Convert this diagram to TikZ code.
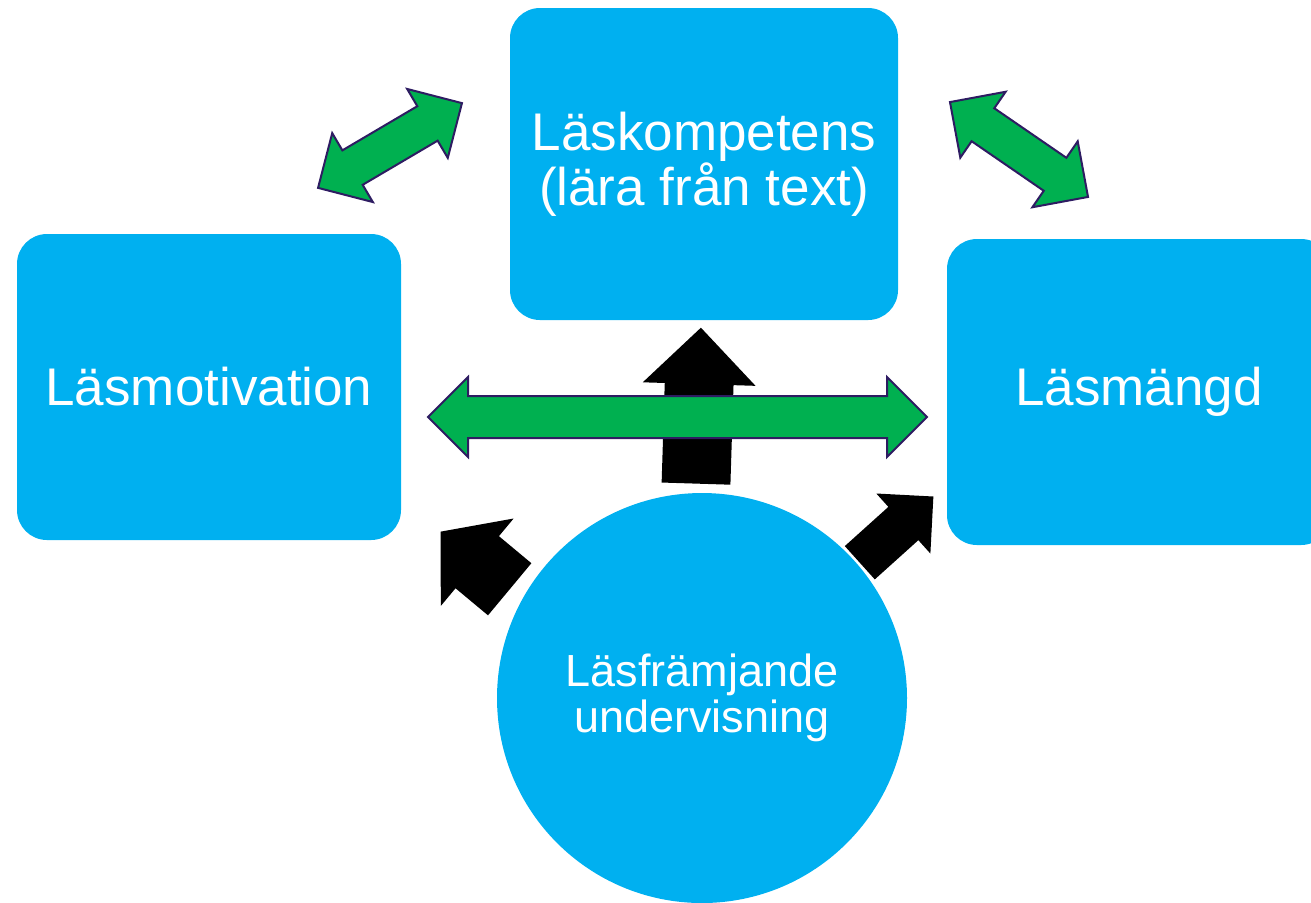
\documentclass[tikz,border=0pt]{standalone}
\usepackage{fontspec}
\setmainfont{Liberation Sans}
\usepackage{tikz}
\usetikzlibrary{shapes.arrows}
\definecolor{boxblue}{RGB}{0,176,240}
\definecolor{linkgreen}{RGB}{0,176,80}
\definecolor{linkline}{RGB}{46,28,98}

\begin{document}
\begin{tikzpicture}[x=0.5pt,y=-0.5pt,
    box/.style={rectangle,rounded corners=15pt,fill=boxblue,text=white,align=center,
      minimum width=192pt,minimum height=153pt,font=\fontsize{26.5}{27.5}\selectfont},
    link/.style={double arrow,fill=linkgreen,draw=linkline,line width=1pt,inner xsep=0pt,
      double arrow tip angle=90,minimum width=39pt},
    push/.style={single arrow,fill=black,inner xsep=0pt,single arrow tip angle=90,anchor=tail}]
  \useasboundingbox (0,0) rectangle (1311,902);
  \clip (0,0) rectangle (1311,902);
	  \node[box,minimum width=194pt,minimum height=156pt] (K) at (704,164) {Läskompetens\\(lära från text)};
	  \node[box] (M) at (209,387) {Läsmotivation};
	  \node[box] (A) at (1139,392) {Läsmängd};
	  \node[circle,fill=boxblue,text=white,align=center,minimum size=205pt,inner sep=0pt,
	    font=\fontsize{22.5}{23}\selectfont] (U) at (702,698) {Läsfrämjande\\undervisning};
	  % black arrows from the circle
	  \node[push,rotate=88.2,minimum height=78pt,inner ysep=17pt,single arrow head extend=11pt] (UK) at (696,484) {};
	  \node[link,rotate=0,minimum height=249.5pt,inner ysep=10pt,double arrow head extend=9.5pt] (MA) at (677.5,417) {};
	  \node[push,rotate=140.2,single arrow tip angle=100,minimum height=45pt,inner ysep=16.75pt,single arrow head extend=11.5pt] (UM) at (510,589.5) {};
	  \node[push,rotate=42,minimum height=49.5pt,inner ysep=11pt,single arrow head extend=9pt] (UA) at (859.5,563) {};
	  % green links between the boxes
	  \node[link,rotate=30.5,minimum height=83.5pt,inner ysep=9.5pt,double arrow head extend=10pt] (MK) at (390,145.5) {};
	  \node[link,rotate=-34.5,minimum height=83.75pt,inner ysep=9.5pt,double arrow head extend=10pt] (KA) at (1019,149.5) {};
\end{tikzpicture}
\end{document}
